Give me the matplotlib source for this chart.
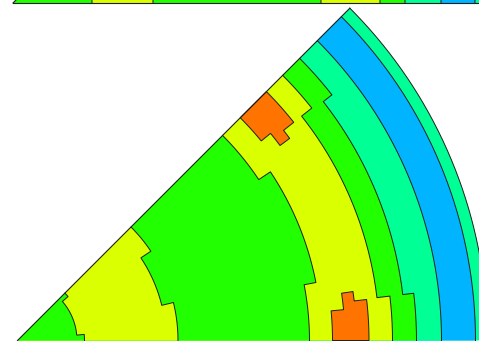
import numpy as np
import matplotlib.pyplot as plt
from matplotlib.patches import Polygon

GREEN = "#22ff00"
YELLOW = "#d9ff00"
ORANGE = "#ff7300"
CYAN = "#00ff94"
BLUE = "#00b4ff"
EDGE = "#1e1e1e"

# lower octant: outer radius and zone boundaries (inner to outer)
# each boundary = break angles (deg) and the radius held over each span
r_outer = 470
bound_angles = [
    [0, 5.2, 41.0, 45],
    [0, 13.7, 33.8, 45],
    [0, 11.0, 33.7, 45],
    [0, 6.8, 38.3, 45],
    [0, 6.8, 38.0, 45],
    [0, 45],
    [0, 45],
]
bound_radii = [
    [67, 59.5, 67],
    [160.5, 148.5, 160.5],
    [292, 304, 290],
    [375, 362, 375],
    [399, 388, 399],
    [424],
    [458],
]
zone_colors = [GREEN, YELLOW, GREEN, YELLOW, GREEN, CYAN, BLUE, CYAN]

# hot spots, (angle deg, radius) corners
hot_a = [(45, 315), (45, 352), (38.3, 352), (38.3, 339), (36.6, 339),
         (36.6, 327), (39.3, 327), (39.3, 315)]
hot_b = [(0, 315), (0, 351.5), (6.7, 351.5), (6.7, 339), (8.3, 339),
         (8.3, 327.5), (5.4, 327.5), (5.4, 315)]

# upper octant, only its bottom edge shows
upper_origin = (-4.5, 337.5)
upper_radii = [79, 140, 308, 367, 392, 428, 462, 470]
upper_colors = [GREEN, YELLOW, GREEN, YELLOW, GREEN, CYAN, BLUE, CYAN]


def step_curve(angles, radii):
    th, rr = [], []
    for a0, a1, r in zip(angles[:-1], angles[1:], radii):
        t = np.linspace(a0, a1, max(int((a1 - a0) * 4), 2))
        th.extend(t)
        rr.extend([r] * len(t))
    th = np.radians(th)
    rr = np.array(rr)
    return rr * np.cos(th), rr * np.sin(th)


def polar_poly(verts):
    xs, ys = [], []
    for (a0, r0), (a1, r1) in zip(verts, verts[1:] + verts[:1]):
        n = 16 if r0 == r1 else 2
        t = np.radians(np.linspace(a0, a1, n))
        r = np.linspace(r0, r1, n)
        xs.extend(r * np.cos(t))
        ys.extend(r * np.sin(t))
    return np.column_stack([xs, ys])


fig = plt.figure(figsize=(4.79, 3.41), dpi=100)
ax = fig.add_axes([0, 0, 1, 1])
ax.set_xlim(-17.5, 461.5)
ax.set_ylim(-0.5, 340.5)
ax.axis("off")

# lower octant fills, outermost first
all_angles = [[0, 45]] + bound_angles[::-1]
all_radii = [[r_outer]] + bound_radii[::-1]
for angles, radii, col in zip(all_angles, all_radii, zone_colors[::-1]):
    x, y = step_curve(angles, radii)
    pts = np.column_stack([np.r_[0, x], np.r_[0, y]])
    ax.add_patch(Polygon(pts, closed=True, facecolor=col, edgecolor="none"))

for verts in (hot_a, hot_b):
    ax.add_patch(Polygon(polar_poly(verts), closed=True, facecolor=ORANGE,
                         edgecolor=EDGE, lw=0.7, zorder=3))

for angles, radii in zip(all_angles, all_radii):
    x, y = step_curve(angles, radii)
    ax.plot(x, y, color=EDGE, lw=0.7, zorder=2)
d = np.radians(45)
ax.plot([0, r_outer * np.cos(d)], [0, r_outer * np.sin(d)], color=EDGE, lw=0.8, zorder=4)

# upper octant
ox, oy = upper_origin
for r, col in zip(upper_radii[::-1], upper_colors[::-1]):
    t = np.radians(np.linspace(0, 45, 120))
    pts = np.column_stack([np.r_[ox, ox + r * np.cos(t)], np.r_[oy, oy + r * np.sin(t)]])
    ax.add_patch(Polygon(pts, closed=True, facecolor=col, edgecolor="none"))
    ax.plot(ox + r * np.cos(t), oy + r * np.sin(t), color=EDGE, lw=0.7)
ax.plot([ox, ox + upper_radii[-1]], [oy, oy], color=EDGE, lw=0.8)
ax.plot([ox, ox + 20], [oy, oy + 20], color=EDGE, lw=0.8)

fig.savefig("out.png", dpi=100)
